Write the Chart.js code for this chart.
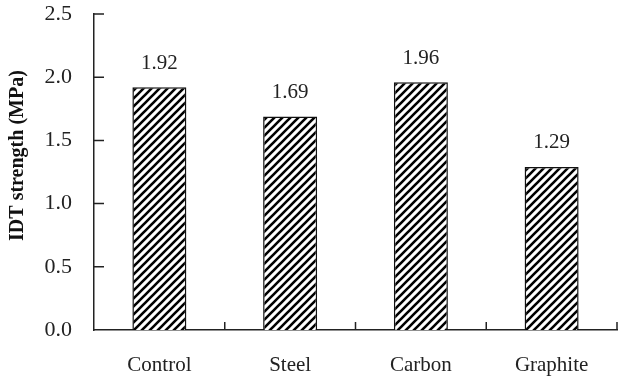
<!DOCTYPE html>
<html>
<head>
<meta charset="utf-8">
<script src="https://cdn.jsdelivr.net/npm/chart.js@4"></script>
<style>
  html, body { margin: 0; padding: 0; background: #fff; }
  #wrap { width: 621px; height: 381px; }
</style>
</head>
<body>
<div id="wrap"><canvas id="idtChart" width="621" height="381"></canvas></div>
<script>
const categories = ['Control', 'Steel', 'Carbon', 'Graphite'];
const idtValues = [1.92, 1.69, 1.96, 1.29];
const yTicks = [0, 0.5, 1.0, 1.5, 2.0, 2.5];
const yTitle = 'IDT strength (MPa)';

const serif = "'Liberation Serif', 'Times New Roman', serif";

// diagonal hatch fill, like the printed figure
function makeHatch() {
  const c = document.createElement('canvas');
  c.width = 8; c.height = 8;
  const g = c.getContext('2d');
  g.fillStyle = '#fff';
  g.fillRect(0, 0, 8, 8);
  g.strokeStyle = '#000';
  g.lineWidth = 2.6;
  g.beginPath();
  g.moveTo(-2, 10); g.lineTo(10, -2);
  g.moveTo(-6, 6); g.lineTo(6, -6);
  g.moveTo(2, 14); g.lineTo(14, 2);
  g.stroke();
  return g.createPattern(c, 'repeat');
}

// inward tick marks, value labels and the y title (sits a bit above centre)
const extras = {
  id: 'extras',
  afterDatasetsDraw(chart) {
    const ctx = chart.ctx;
    const area = chart.chartArea;
    const y = chart.scales.y;
    const x = chart.scales.x;
    ctx.save();
    ctx.strokeStyle = '#222';
    ctx.lineWidth = 1.5;
    ctx.beginPath();
    yTicks.forEach(v => {
      const py = y.getPixelForValue(v);
      if (v === 0) return;
      ctx.moveTo(area.left, py);
      ctx.lineTo(area.left + 10, py);
    });
    for (let i = 1; i <= categories.length; i++) {
      const px = x.getPixelForValue(i - 0.5);
      ctx.moveTo(px, area.bottom);
      ctx.lineTo(px, area.bottom - 8);
    }
    ctx.stroke();

    ctx.fillStyle = '#222';
    ctx.font = '21px ' + serif;
    ctx.textAlign = 'center';
    ctx.textBaseline = 'middle';
    chart.getDatasetMeta(0).data.forEach((bar, i) => {
      ctx.fillText(idtValues[i].toFixed(2), bar.x, bar.y - 24);
    });

    ctx.fillStyle = '#111';
    ctx.font = 'bold 20px ' + serif;
    ctx.translate(18, y.getPixelForValue(1.38));
    ctx.rotate(-Math.PI / 2);
    ctx.fillText(yTitle, 0, 0);
    ctx.restore();
  }
};

const ctx = document.getElementById('idtChart').getContext('2d');
const idtChart = new Chart(ctx, {
  type: 'bar',
  data: {
    labels: categories,
    datasets: [{
      data: idtValues,
      backgroundColor: makeHatch(),
      borderColor: '#111',
      borderWidth: 1.5,
      categoryPercentage: 1,
      barPercentage: 0.413
    }]
  },
  options: {
    responsive: false,
    animation: false,
    layout: { padding: { top: 14, right: 4, left: 0, bottom: 0 } },
    plugins: { legend: { display: false }, tooltip: { enabled: false } },
    scales: {
      x: {
        grid: { display: false, drawTicks: false },
        border: { color: '#222', width: 1.5 },
        ticks: { color: '#222', padding: 23, font: { family: serif, size: 21 } },
        afterFit: s => { s.height = 51; s.paddingLeft = 0; s.paddingRight = 0; }
      },
      y: {
        min: 0,
        max: 2.5,
        afterBuildTicks: s => { s.ticks = yTicks.map(v => ({ value: v })); },
        grid: { display: false, drawTicks: false },
        border: { color: '#222', width: 1.5 },
        ticks: {
          color: '#222',
          padding: 22,
          font: { family: serif, size: 22 },
          callback: v => Number(v).toFixed(1)
        },
        afterFit: s => { s.width = 94; s.paddingTop = 0; s.paddingBottom = 0; }
      }
    }
  },
  plugins: [extras]
});
</script>
</body>
</html>
